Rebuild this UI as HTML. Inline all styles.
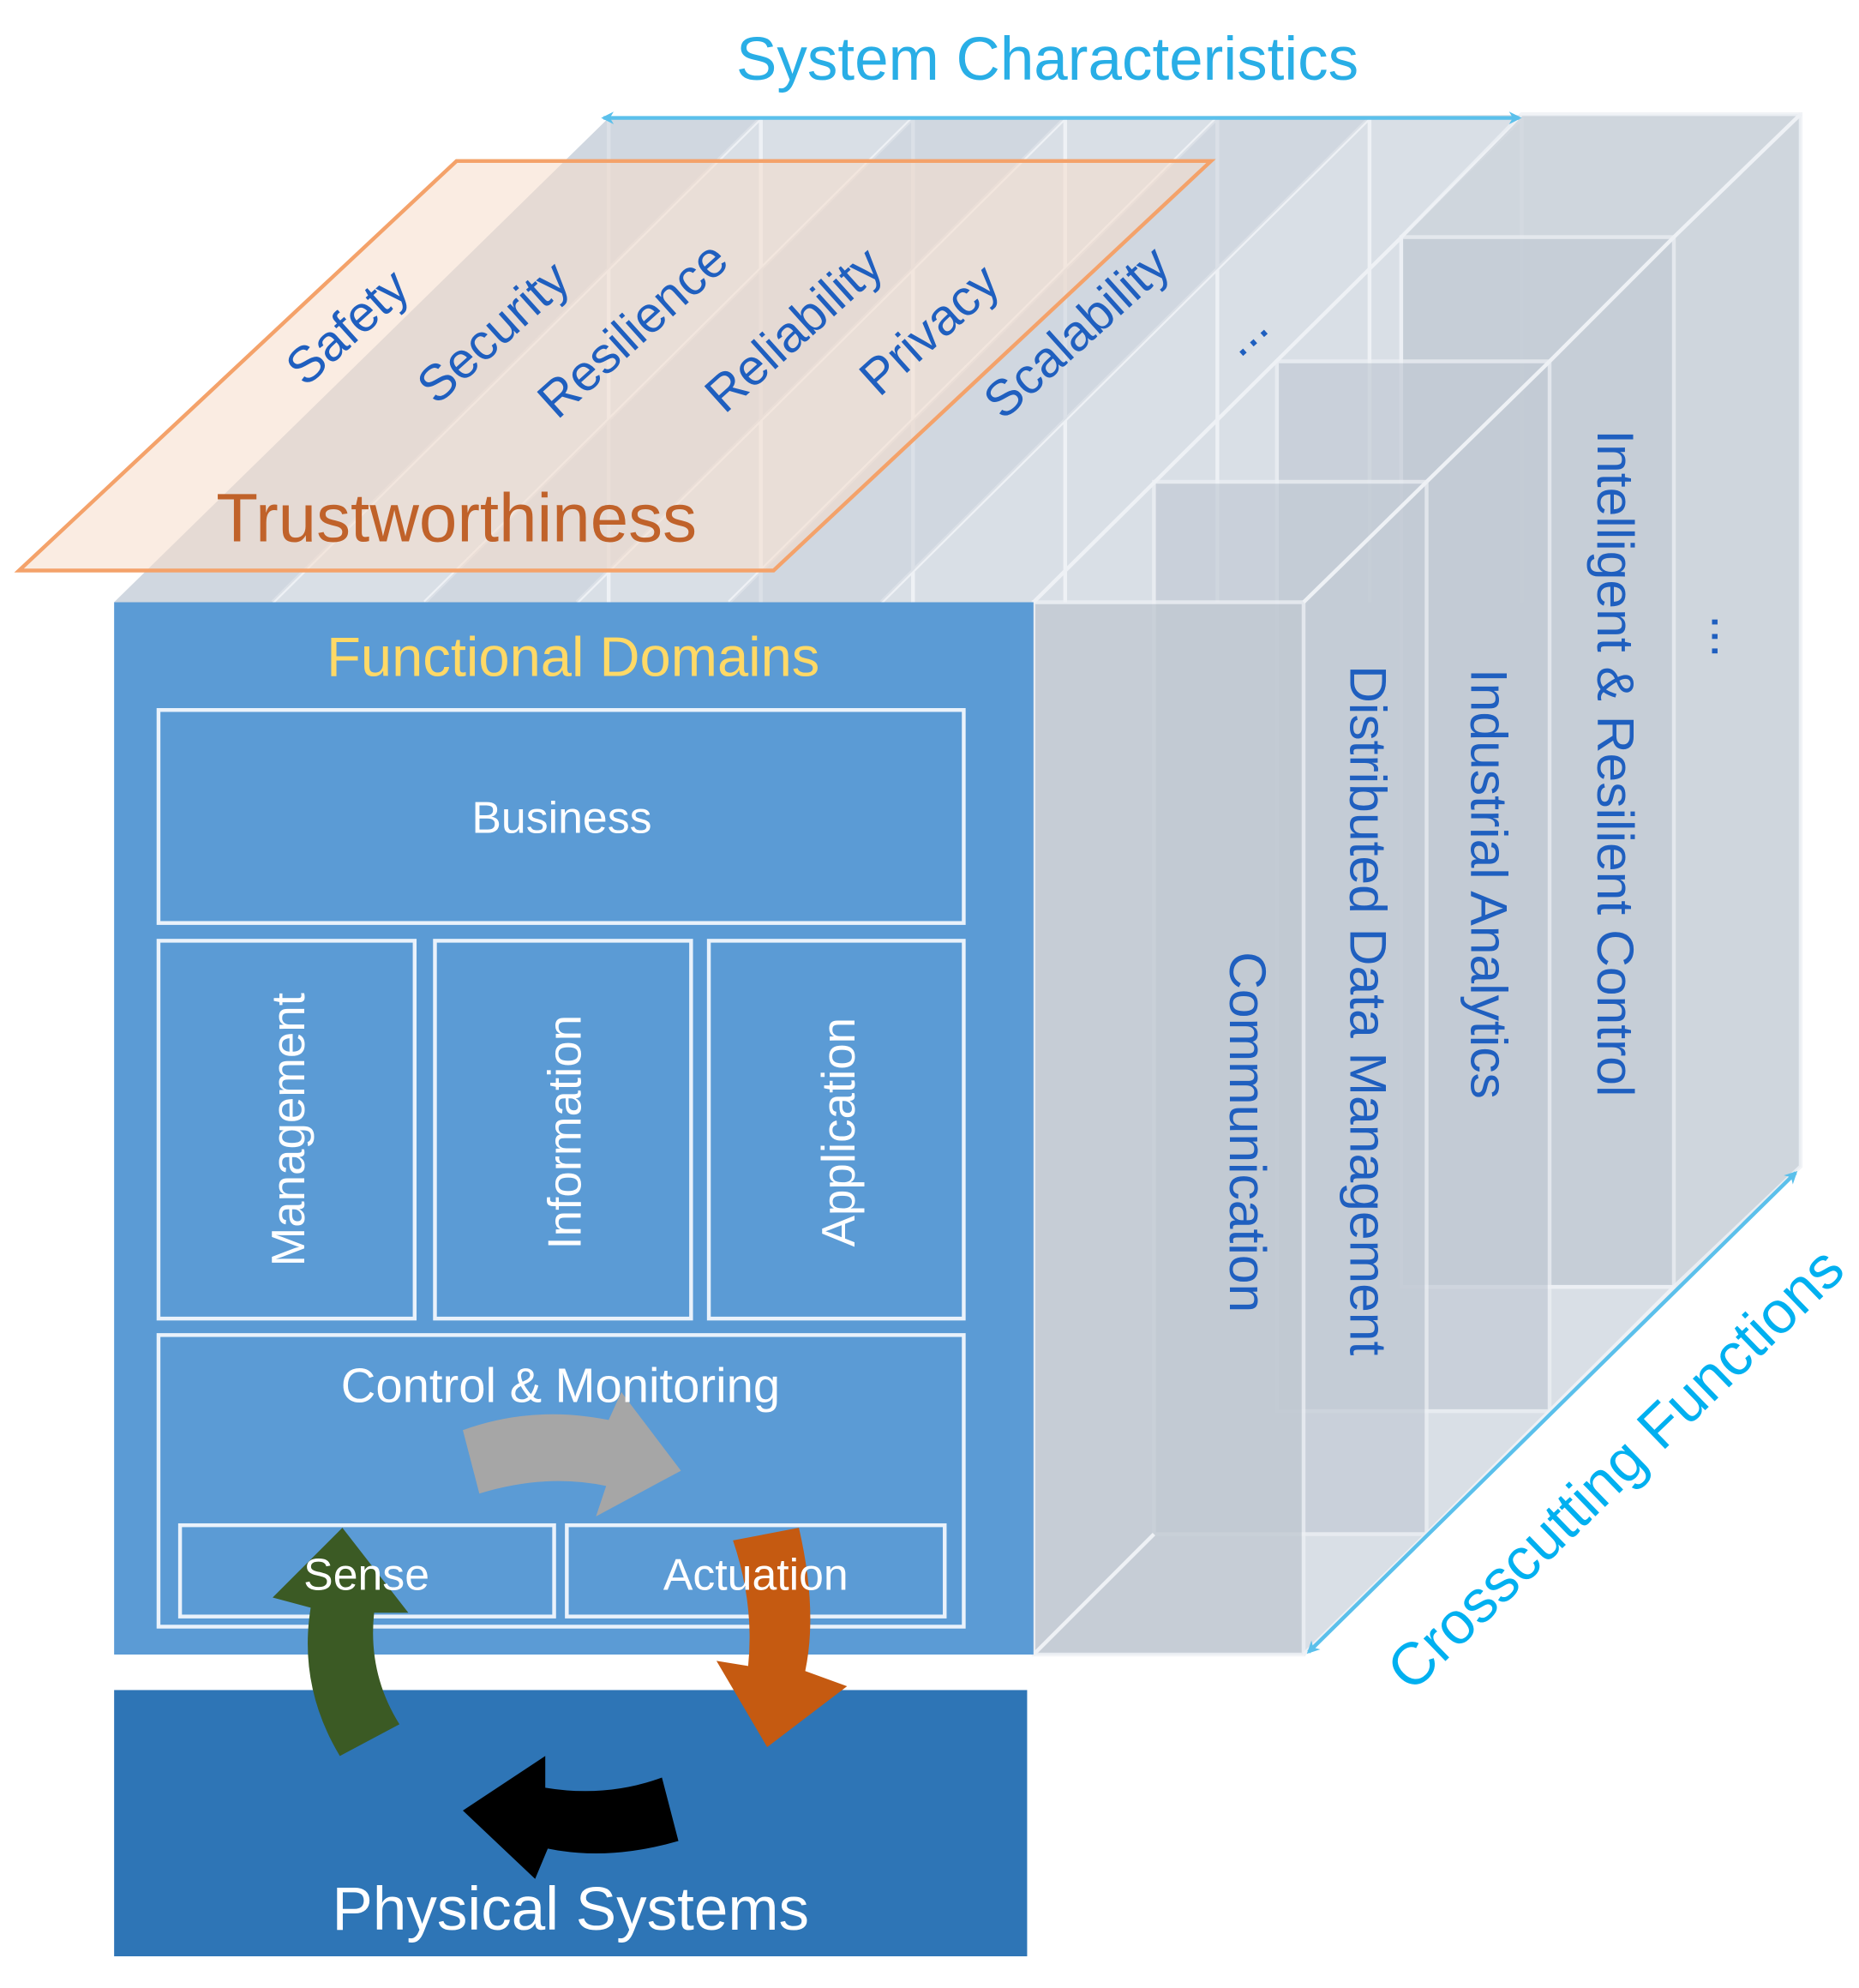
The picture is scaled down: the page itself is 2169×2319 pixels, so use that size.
<!DOCTYPE html>
<html><head><meta charset="utf-8"><style>
html,body{margin:0;padding:0;background:#fff;}
svg{display:block;}
text{font-family:"Liberation Sans",sans-serif;}
</style></head><body>
<svg width="2169" height="2319" viewBox="0 0 1466 1568" preserveAspectRatio="none" xmlns="http://www.w3.org/2000/svg">
<defs>
<marker id="ah" markerWidth="10" markerHeight="10" refX="8" refY="5" orient="auto-start-reverse" markerUnits="userSpaceOnUse">
<path d="M0,0 L10,5 L0,10 L3,5 Z" fill="#5bc0eb"/></marker>
</defs>
<polygon points="90,475 480,93 1420,90 1420,920 1030,1305 815,1305 815,475" fill="#d9dfe6"/>
<g stroke="#eef1f5" stroke-width="3" fill="none">
<line x1="480" y1="93" x2="480" y2="475"/><line x1="600" y1="93" x2="600" y2="475"/><line x1="720" y1="93" x2="720" y2="475"/><line x1="840" y1="93" x2="840" y2="475"/><line x1="960" y1="93" x2="960" y2="475"/><line x1="1080" y1="93" x2="1080" y2="475"/><line x1="1200" y1="93" x2="1200" y2="475"/>
<line x1="215" y1="475" x2="600" y2="93"/><line x1="335" y1="475" x2="720" y2="93"/><line x1="455" y1="475" x2="840" y2="93"/><line x1="575" y1="475" x2="960" y2="93"/><line x1="695" y1="475" x2="1080" y2="93"/><line x1="815" y1="475" x2="1200" y2="93"/>
</g>
<polygon points="90,475 480,93 600,93 215,475" fill="#c8d0d9" opacity="0.5"/>
<polygon points="335,475 720,93 840,93 455,475" fill="#c8d0d9" opacity="0.5"/>
<polygon points="575,475 960,93 1080,93 695,475" fill="#c8d0d9" opacity="0.5"/>
<g stroke="#eef1f5" stroke-width="3">
<polygon points="1200,90 1420,90 1420,920 1320,1015 1105,1015 1105,187 1200,90" fill="#cdd4dc" opacity="0.8"/>
<rect x="1105" y="187" width="215" height="828" fill="#c3cbd5" opacity="0.7"/>
<line x1="1320" y1="187" x2="1420" y2="90"/>
<rect x="1007" y="285" width="215" height="828" fill="#c3cbd5" opacity="0.7"/>
<line x1="1222" y1="285" x2="1320" y2="187"/><line x1="1222" y1="1113" x2="1320" y2="1015"/>
<rect x="910" y="380" width="215" height="830" fill="#c3cbd5" opacity="0.7"/>
<line x1="1125" y1="380" x2="1222" y2="285"/><line x1="1125" y1="1210" x2="1222" y2="1113"/>
<rect x="815" y="475" width="213" height="830" fill="#c0c8d1" opacity="0.75"/>
<line x1="1028" y1="475" x2="1125" y2="380"/><line x1="1028" y1="1305" x2="1125" y2="1210"/>
<line x1="815" y1="1305" x2="910" y2="1210"/>
</g>
<g fill="#1f5fbf" font-size="41">
<text transform="translate(970,893) rotate(90)" text-anchor="middle">Communication</text>
<text transform="translate(1065,797) rotate(90)" text-anchor="middle">Distributed Data Management</text>
<text transform="translate(1160,697) rotate(90)" text-anchor="middle">Industrial Analytics</text>
<text transform="translate(1260,602) rotate(90)" text-anchor="middle">Intelligent &amp; Resilient Control</text>
<text transform="translate(1350,502) rotate(90)" text-anchor="middle">...</text>
</g>
<polygon points="15,450 360,127 955,127 610,450" fill="#f6dccb" fill-opacity="0.55" stroke="#f4a26a" stroke-width="3"/>
<g fill="#1f5fbf" font-size="40">
<text transform="translate(283,268) rotate(-42)" text-anchor="middle">Safety</text>
<text transform="translate(398,272) rotate(-42)" text-anchor="middle">Security</text>
<text transform="translate(508,270) rotate(-42)" text-anchor="middle">Resilience</text>
<text transform="translate(635,270) rotate(-42)" text-anchor="middle">Reliability</text>
<text transform="translate(742,270) rotate(-42)" text-anchor="middle">Privacy</text>
<text transform="translate(858,272) rotate(-42)" text-anchor="middle">Scalability</text>
<text transform="translate(990,272) rotate(-42)" text-anchor="middle">...</text>
</g>
<text x="360" y="427" font-size="54" fill="#c0622a" text-anchor="middle">Trustworthiness</text>
<text x="826" y="63" font-size="48" fill="#29aee6" text-anchor="middle">System Characteristics</text>
<line x1="476" y1="93" x2="1198" y2="93" stroke="#5bc0eb" stroke-width="3" marker-start="url(#ah)" marker-end="url(#ah)"/>
<line x1="1032" y1="1303" x2="1416" y2="925" stroke="#5bc0eb" stroke-width="3" marker-start="url(#ah)" marker-end="url(#ah)"/>
<text transform="translate(1285,1170) rotate(-44)" font-size="47" fill="#00b0f0" text-anchor="middle">Crosscutting Functions</text>
<rect x="90" y="475" width="725" height="830" fill="#5b9bd5"/>
<text x="452" y="533" font-size="44" fill="#ffd966" text-anchor="middle">Functional Domains</text>
<g fill="none" stroke="#eaf2fb" stroke-width="3">
<rect x="125" y="560" width="635" height="168"/>
<rect x="125" y="742" width="202" height="298"/>
<rect x="343" y="742" width="202" height="298"/>
<rect x="559" y="742" width="201" height="298"/>
<rect x="125" y="1053" width="635" height="230"/>
<rect x="142" y="1203" width="295" height="72"/>
<rect x="447" y="1203" width="298" height="72"/>
</g>
<path d="M365,1128 Q420,1108 480,1120 L490,1098 L537,1160 L470,1196 L478,1172 Q430,1162 378,1178 Z" fill="#a6a6a6"/>
<rect x="90" y="1333" width="720" height="210" fill="#2e75b6"/>
<text x="450" y="1522" font-size="48" fill="#fff" text-anchor="middle">Physical Systems</text>
<path d="M268,1385 Q235,1330 245,1268 L215,1260 L270,1205 L322,1272 L295,1272 Q290,1320 315,1360 Z" fill="#3b5a24"/>
<path d="M578,1215 L630,1205 Q645,1270 635,1318 L668,1330 L605,1378 L565,1310 L590,1314 Q595,1265 578,1215 Z" fill="#c55a11"/>
<path d="M535,1452 Q480,1468 432,1458 L422,1482 L365,1428 L430,1385 L430,1410 Q478,1418 522,1402 Z" fill="#000"/>
<g fill="#fff" font-size="35" text-anchor="middle">
<text x="443" y="657">Business</text>
<text transform="translate(240,891) rotate(-90)" font-size="37">Management</text>
<text transform="translate(458,893) rotate(-90)" font-size="37">Information</text>
<text transform="translate(674,893) rotate(-90)" font-size="37">Application</text>
<text x="442" y="1106" font-size="38">Control &amp; Monitoring</text>
<text x="289" y="1254" font-size="35">Sense</text>
<text x="596" y="1254" font-size="35">Actuation</text>
</g>
</svg>
</body></html>
